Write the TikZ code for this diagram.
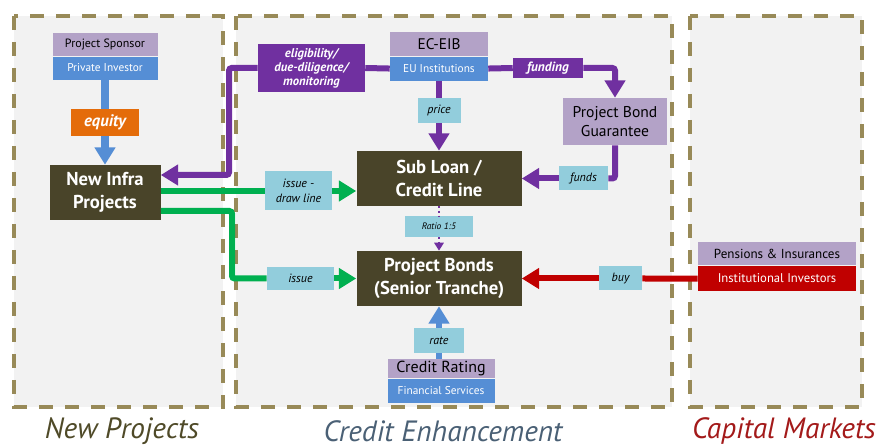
\documentclass[tikz,border=0pt]{standalone}
\usepackage{fontspec}
\setmainfont{PT Sans}
\usetikzlibrary{positioning,arrows.meta}

\definecolor{panelfill}{RGB}{242,242,242}
\definecolor{panelline}{RGB}{152,138,88}
\definecolor{darkbox}{RGB}{73,68,41}
\definecolor{lavbox}{RGB}{179,162,199}
\definecolor{midblue}{RGB}{85,142,213}
\definecolor{tagblue}{RGB}{146,205,220}
\definecolor{purp}{RGB}{112,48,160}
\definecolor{grn}{RGB}{0,176,80}
\definecolor{redbox}{RGB}{192,0,0}
\definecolor{orng}{RGB}{228,108,10}
\definecolor{capnew}{RGB}{79,74,40}
\definecolor{capcredit}{RGB}{74,96,117}
\definecolor{capmarket}{RGB}{163,26,26}

\newcommand{\fs}[1]{\fontsize{#1}{1.2\dimexpr#1pt\relax}\selectfont}

\tikzset{
  sz/.style 2 args={minimum width=#1*0.75pt, minimum height=#2*0.75pt, inner sep=0pt, align=center},
  darkbox/.style={fill=darkbox, text=white, font=\bfseries\fs{14}},
  lavbox/.style={fill=lavbox, text=black},
  bluebox/.style={fill=midblue, text=white},
  tag/.style={fill=tagblue, text=black, font=\itshape\fs{9}},
  ptag/.style={fill=purp, text=white, font=\bfseries\itshape\fs{9.5}},
  panel/.style={fill=panelfill, draw=panelline, line width=3pt, dash pattern=on 10.5pt off 9pt},
  caption/.style={font=\itshape\fs{22}},
  purpline/.style={draw=purp, line width=4.5pt, rounded corners=2pt},
  grnline/.style={draw=grn, line width=4.5pt, rounded corners=2pt},
  bigtip/.style={-{Triangle[length=13pt,width=15pt]}},
}

\begin{document}
\begin{tikzpicture}[x=0.75pt,y=-0.75pt]
    \useasboundingbox (0,0) rectangle (879,445);

    % panels
    \draw[panel] (14,16) rectangle (223,407);
    \draw[panel] (236,16) rectangle (672,407);
    \draw[panel] (690,16) rectangle (862,407);

    \node[caption, text=capnew] (capnew) at (122,431) {New Projects};
    \node[caption, text=capcredit] (capcredit) at (443,431) {Credit Enhancement};
    \node[caption, text=capmarket] (capmarket) at (784,431) {Capital Markets};

    % new projects
    \node[lavbox, sz={105}{23}, font=\fs{9}] (sponsor) at (105,44.5) {Project Sponsor};
    \node[bluebox, sz={105}{23}, font=\fs{8.5}, below=0pt of sponsor] (privinv) {Private Investor};
    \node[sz={68}{27}, fill=orng, text=white, font=\bfseries\itshape\fs{12.5}] (equity) at (105,122.5) {equity};
    \node[darkbox, sz={111}{55}] (newinfra) at (105,192.5) {New Infra\\Projects};

    % credit enhancement
    \node[lavbox, sz={98}{24}, font=\fs{11.5}] (eceib) at (439,44) {EC-EIB};
    \node[bluebox, sz={98}{24}, font=\fs{8.5}, below=0pt of eceib] (euinst) {EU Institutions};
    \node[ptag, sz={107}{48}] (elig) at (311.5,68) {eligibility/\\[-1pt]due-diligence/\\[-1pt]monitoring};
    \node[ptag, sz={70}{20}, font=\bfseries\itshape\fs{10}] (funding) at (548,68) {funding};
    \node[lavbox, sz={104}{47}, font=\fs{11.7}] (pbg) at (615,121.5) {Project Bond\\Guarantee};
    \node[tag, sz={43}{25}] (price) at (439,110.5) {price};
    \node[darkbox, sz={165}{55}] (subloan) at (439,178.5) {Sub Loan /\\Credit Line};
    \node[tag, sz={49}{24}] (funds) at (583.5,178.5) {funds};
    \node[tag, sz={67}{39}] (issuedraw) at (298.5,191) {issue -\\draw line};
    \node[tag, sz={68}{21}, font=\itshape\fs{7}] (ratio) at (439,226.5) {Ratio 1:5};
    \node[darkbox, sz={165}{55}] (bonds) at (439,278.5) {Project Bonds\\(Senior Tranche)};
    \node[tag, sz={67}{23}] (issue) at (300.5,278.5) {issue};
    \node[tag, sz={50}{25}] (rate) at (439,340.5) {rate};
    \node[lavbox, sz={107}{19}, font=\fs{12}] (crating) at (441,368.5) {Credit Rating};
    \node[bluebox, sz={107}{24}, font=\fs{8.5}, below=0pt of crating] (finserv) {Financial Services};

    % capital markets
    \node[tag, sz={43}{24}] (buy) at (620.5,278.5) {buy};
    \node[lavbox, sz={158}{23}, font=\fs{9.8}] (pensions) at (777,254) {Pensions \& Insurances};
    \node[sz={158}{25}, fill=redbox, text=white, font=\fs{9.5}, below=0pt of pensions] (instinv) {Institutional Investors};

    \coordinate (pbend) at (229,175);
    \coordinate (gbend) at (232,211);

    % connectors
    \draw[draw=midblue, line width=5.5pt] (privinv) -- (equity);
    \draw[draw=midblue, line width=5.5pt, bigtip] (equity) -- (newinfra);

    \draw[purpline] (euinst.west) -- (elig.east);
    \draw[purpline, bigtip] (elig.west) -| (pbend) -- (pbend -| newinfra.east);
    \draw[purpline] (euinst.east) -- (funding.west);
    \draw[purpline, bigtip] (funding.east) -| (pbg.north);
    \draw[purpline] (euinst) -- (price);
    \draw[purpline, bigtip] (price) -- (subloan);
    \draw[purpline] (pbg.south) |- (funds.east);
    \draw[purpline, bigtip] (funds) -- (subloan);

    \draw[grnline] (newinfra.east |- issuedraw) -- (issuedraw.west);
    \draw[grnline, bigtip] (issuedraw.east) -- (subloan.west |- issuedraw);
    \draw[grnline] (newinfra.east |- gbend) -- (gbend) |- (issue.west);
    \draw[grnline, bigtip] (issue) -- (bonds);

    \draw[draw=purp, line width=1.5pt, dotted] (subloan) -- (ratio);
    \draw[draw=purp, line width=1.5pt, dotted, -{Triangle[length=6pt,width=7pt]}] (ratio) -- (bonds);

    \draw[draw=redbox, line width=4.5pt] (instinv.west) -- (buy.east);
    \draw[draw=redbox, line width=4.5pt, bigtip] (buy) -- (bonds);

    \draw[draw=midblue, line width=4.5pt] (crating.north -| rate) -- (rate.south);
    \draw[draw=midblue, line width=4.5pt, bigtip] (rate) -- (bonds);
\end{tikzpicture}
\end{document}
